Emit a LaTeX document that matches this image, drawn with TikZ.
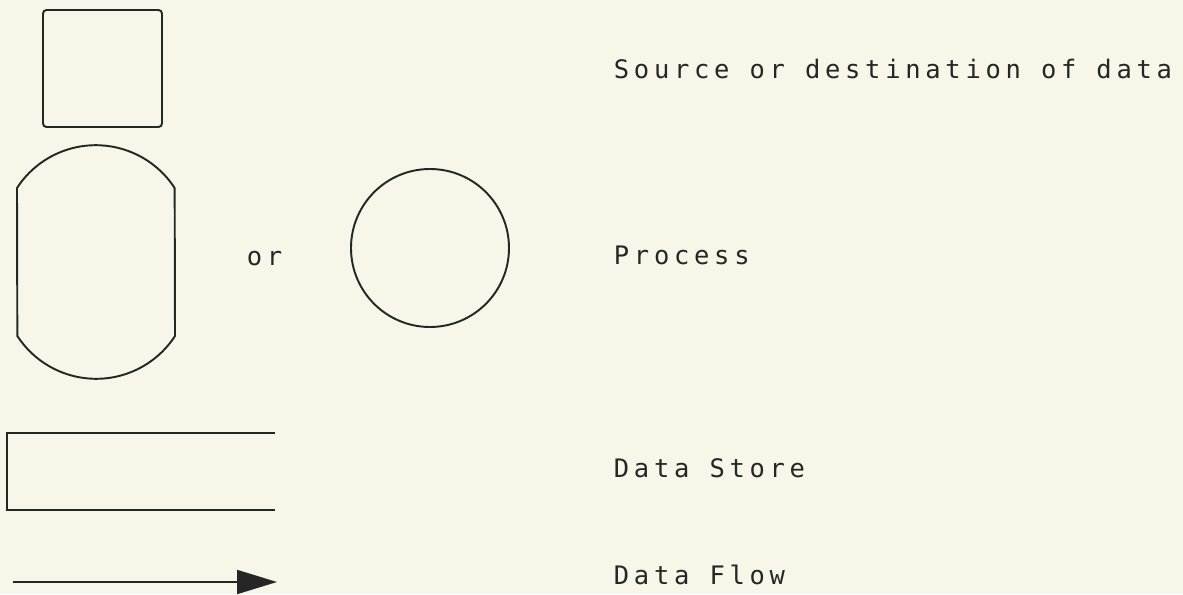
\documentclass[tikz,border=0pt]{standalone}
\usepackage{fontspec}
\usetikzlibrary{arrows.meta}
\newfontfamily\plotterfont[LetterSpace=18.5]{DejaVu Sans Mono}
\definecolor{paper}{HTML}{F7F6E8}
\definecolor{ink}{HTML}{262626}

\begin{document}
\begin{tikzpicture}[transform shape, line width=1.1pt, draw=ink,
	legend/.style={anchor=base west, inner sep=0pt, text=ink, font=\plotterfont\fontsize{14.5}{17}\selectfont}]
	% Paper:
	\fill[paper] (0, 0) rectangle (23.66, 11.88);
	\useasboundingbox (0, 0) rectangle (23.66, 11.88);
	% Paths, nodes and wires:
	\node[shape=rectangle, draw=ink, rounded corners=2pt, minimum width=2.38cm, minimum height=2.34cm] (source) at (2.05, 10.51){};
	\draw[ink] (0.34, 8.12) arc[start angle=147, end angle=33, radius=1.88] -- (3.50, 5.16) arc[start angle=-33, end angle=-147, radius=1.88] -- cycle;
	\node[legend] (or) at (4.92, 6.58){or};
	\node[shape=circle, draw=ink, minimum size=3.16cm] (process) at (8.60, 6.92){};
	\draw[ink] (5.50, 3.22) -- (0.14, 3.22) -- (0.14, 1.68) -- (5.50, 1.68);
	\coordinate (flowA) at (0.26, 0.24);
	\coordinate (flowB) at (5.54, 0.24);
	\draw[ink, -{Triangle[length=0.8cm, width=0.48cm]}] (flowA) -- (flowB);
	\node[legend] (lsource) at (12.26, 10.32){Source or destination of data};
	\node[legend] (lprocess) at (12.26, 6.60){Process};
	\node[legend] (lstore) at (12.26, 2.34){Data Store};
	\node[legend] (lflow) at (12.26, 0.20){Data Flow};
\end{tikzpicture}
\end{document}
